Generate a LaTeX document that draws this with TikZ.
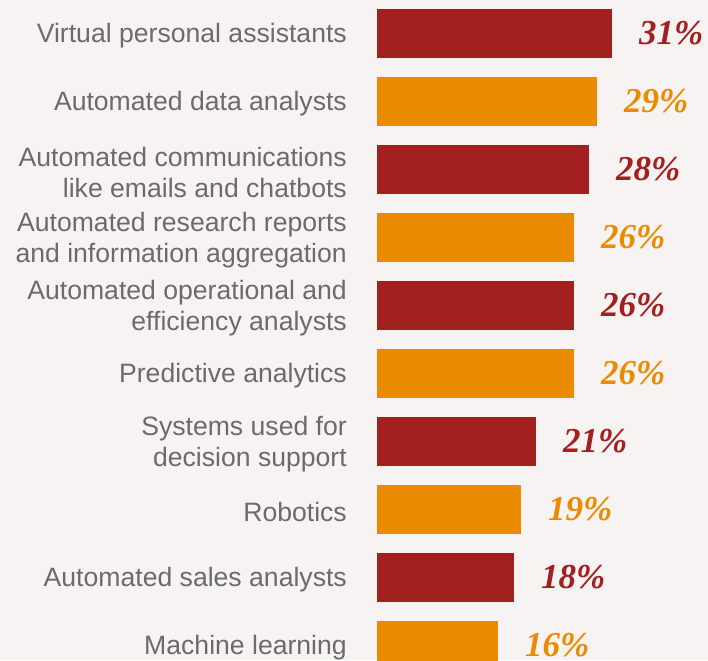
\documentclass[tikz,border=0pt]{standalone}
\usepackage{fontspec}
\setmainfont{Liberation Sans}
\newfontfamily\pctfont{Liberation Serif}
\usepackage{xcolor}
\usetikzlibrary{positioning}

\definecolor{pwcred}{HTML}{A32020}
\definecolor{pwcorange}{HTML}{EB8C00}
\definecolor{pwcgrey}{HTML}{6B6B6B}
\definecolor{pwcback}{HTML}{F7F3F2}

\begin{document}
\begin{tikzpicture}[x=1pt, y=1pt,
    bar/.style={anchor=west, minimum height=49pt, inner sep=0pt, outer sep=0pt},
    redbar/.style={bar, fill=pwcred},
    orangebar/.style={bar, fill=pwcorange},
    cat/.style={inner sep=0pt, yshift=-2.5pt, align=right, text=pwcgrey, font=\fontsize{26.6}{31}\selectfont},
    pct/.style={inner sep=0pt, font=\pctfont\bfseries\itshape\fontsize{35}{35}\selectfont}]
    \fill[pwcback] (0,0) rectangle (708,-660);
    \useasboundingbox (0,0) rectangle (708,-660);

    % bars
    \node[redbar, minimum width=235pt] (b1) at (377,-33.5) {};
    \node[orangebar, minimum width=220pt] (b2) at (377,-101.5) {};
    \node[redbar, minimum width=212pt] (b3) at (377,-169.5) {};
    \node[orangebar, minimum width=197pt] (b4) at (377,-237.5) {};
    \node[redbar, minimum width=197pt] (b5) at (377,-305.5) {};
    \node[orangebar, minimum width=197pt] (b6) at (377,-373.5) {};
    \node[redbar, minimum width=159pt] (b7) at (377,-441.5) {};
    \node[orangebar, minimum width=144pt] (b8) at (377,-509.5) {};
    \node[redbar, minimum width=137pt] (b9) at (377,-577.5) {};
    \node[orangebar, minimum width=121pt] (b10) at (377,-645.5) {};

    % categories
    \node[cat, left=30pt of b1] (c1) {Virtual personal assistants};
    \node[cat, left=30pt of b2] (c2) {Automated data analysts};
    \node[cat, left=30pt of b3] (c3) {Automated communications\\like emails and chatbots};
    \node[cat, left=30pt of b4] (c4) {Automated research reports\\and information aggregation};
    \node[cat, left=30pt of b5] (c5) {Automated operational and\\efficiency analysts};
    \node[cat, left=30pt of b6] (c6) {Predictive analytics};
    \node[cat, left=30pt of b7] (c7) {Systems used for\\decision support};
    \node[cat, left=30pt of b8] (c8) {Robotics};
    \node[cat, left=30pt of b9] (c9) {Automated sales analysts};
    \node[cat, left=30pt of b10] (c10) {Machine learning};

    % shares
    \node[pct, text=pwcred, right=27pt of b1] (p1) {31\%};
    \node[pct, text=pwcorange, right=27pt of b2] (p2) {29\%};
    \node[pct, text=pwcred, right=27pt of b3] (p3) {28\%};
    \node[pct, text=pwcorange, right=27pt of b4] (p4) {26\%};
    \node[pct, text=pwcred, right=27pt of b5] (p5) {26\%};
    \node[pct, text=pwcorange, right=27pt of b6] (p6) {26\%};
    \node[pct, text=pwcred, right=27pt of b7] (p7) {21\%};
    \node[pct, text=pwcorange, right=27pt of b8] (p8) {19\%};
    \node[pct, text=pwcred, right=27pt of b9] (p9) {18\%};
    \node[pct, text=pwcorange, right=27pt of b10] (p10) {16\%};
\end{tikzpicture}
\end{document}
